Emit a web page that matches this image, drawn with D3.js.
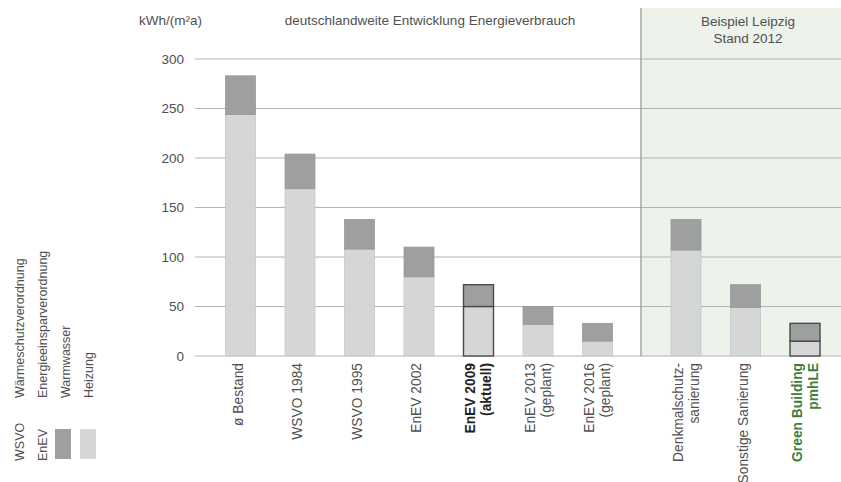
<!DOCTYPE html>
<html><head><meta charset="utf-8">
<script src="https://cdn.jsdelivr.net/npm/d3@7"></script>
<style>
html,body{margin:0;padding:0;background:#fff;}
svg{display:block;font-family:"Liberation Sans",Arial,Helvetica,sans-serif;}
</style></head>
<body>
<svg id="chart" width="841" height="482"></svg>
<script>
// ---- data ----
const categories = ["ø Bestand","WSVO 1984","WSVO 1995","EnEV 2002","EnEV 2009 (aktuell)","EnEV 2013 (geplant)","EnEV 2016 (geplant)","Denkmalschutz-sanierung","Sonstige Sanierung","Green Building pmhLE"];
const labelLines = [["ø Bestand"],["WSVO 1984"],["WSVO 1995"],["EnEV 2002"],["EnEV 2009","(aktuell)"],["EnEV 2013","(geplant)"],["EnEV 2016","(geplant)"],["Denkmalschutz-","sanierung"],["Sonstige Sanierung"],["Green Building","pmhLE"]];
const groups = ["de","de","de","de","de","de","de","le","le","le"];
const heizung    = [244,169,108,80,50,32,15,107,49,15];
const warmwasser = [39,35,30,30,22,18,18,31,23,18];
const yTicks = [0,50,100,150,200,250,300];
const unitLabel = "kWh/(m²a)";
const titleLeft = "deutschlandweite Entwicklung Energieverbrauch";
const titleRight = ["Beispiel Leipzig","Stand 2012"];
const legendAbbr = ["WSVO","EnEV"];
const legendAbbrText = ["Wärmeschutzverordnung","Energieeinsparverordnung"];
const seriesNames = ["Warmwasser","Heizung"];

// ---- layout ----
const svg = d3.select("#chart");
const W = 841, H = 482;
const y = d3.scaleLinear().domain([0,300]).range([356,59]);
const deCats = categories.filter((c,i)=>groups[i]==="de");
const leCats = categories.filter((c,i)=>groups[i]==="le");
const xDe = d3.scalePoint().domain(deCats).range([240.5,597.5]);
const xLe = d3.scalePoint().domain(leCats).range([686,805]);
const xc = (c,i) => groups[i]==="de" ? xDe(c) : xLe(c);
const barW = 30;
const sepX = 641;
const colDark = "#9e9f9f", colLight = "#d5d7d6";
const textCol = "#505050";
const green = "#3f7f3a";
const highlighted = new Set(["EnEV 2009 (aktuell)","Green Building pmhLE"]);

// green region
svg.append("rect").attr("x",sepX).attr("y",8).attr("width",W-sepX).attr("height",y(0)-8).attr("fill","#edf2ea");

// grid lines
svg.append("g").selectAll("line").data(yTicks).join("line")
  .attr("x1",195).attr("x2",W).attr("y1",d=>y(d)).attr("y2",d=>y(d))
  .attr("stroke","#b3b3b3").attr("stroke-width",1.2);

// separator
svg.append("line").attr("x1",sepX).attr("x2",sepX).attr("y1",8).attr("y2",y(0))
  .attr("stroke","#9a9a9a").attr("stroke-width",1.3);

// y axis labels
svg.append("g").selectAll("text").data(yTicks).join("text")
  .attr("x",184).attr("y",d=>y(d)).attr("dy","0.35em").attr("text-anchor","end")
  .attr("font-size",13.5).attr("fill",textCol).text(d=>d);

svg.append("text").attr("x",139).attr("y",25).attr("font-size",13.5).attr("fill",textCol).text(unitLabel);
svg.append("text").attr("x",430).attr("y",25).attr("text-anchor","middle").attr("font-size",13.5).attr("fill",textCol).text(titleLeft);
svg.append("g").selectAll("text").data(titleRight).join("text")
  .attr("x",748).attr("y",(d,i)=>26+i*16.5).attr("text-anchor","middle").attr("font-size",13.5).attr("fill",textCol).text(d=>d);

// bars
const bars = svg.append("g");
categories.forEach((c,i)=>{
  const x0 = xc(c,i) - barW/2;
  const hl = highlighted.has(c);
  bars.append("rect").attr("x",x0).attr("width",barW)
    .attr("y",y(heizung[i])).attr("height",y(0)-y(heizung[i]))
    .attr("fill",colLight).attr("stroke",hl?"#4a4a4a":"#c6c8c7").attr("stroke-width",hl?1.4:0.8);
  bars.append("rect").attr("x",x0).attr("width",barW)
    .attr("y",y(heizung[i]+warmwasser[i])).attr("height",y(heizung[i])-y(heizung[i]+warmwasser[i]))
    .attr("fill",colDark).attr("stroke",hl?"#4a4a4a":"#979898").attr("stroke-width",hl?1.4:0.8);
});

// x labels
const xl = svg.append("g");
categories.forEach((c,i)=>{
  const lines = labelLines[i];
  const cx = xc(c,i);
  const isBold = highlighted.has(c);
  const isGreen = c.startsWith("Green");
  lines.forEach((t,j)=>{
    const off = lines.length===1 ? 2 : (j===0 ? -3.5 : 12.5);
    xl.append("text").attr("transform",`translate(${cx+off},363) rotate(-90)`)
      .attr("text-anchor","end").attr("font-size",13.8)
      .attr("font-weight",isBold?"bold":"normal")
      .attr("fill",isGreen?green:(isBold?"#222":textCol)).text(t);
  });
});

// legend
const lg = svg.append("g");
[24,47].forEach((bx,i)=>{
  lg.append("text").attr("transform",`translate(${bx},461) rotate(-90)`).attr("font-size",12.5).attr("fill",textCol).text(legendAbbr[i]);
  lg.append("text").attr("transform",`translate(${bx},398) rotate(-90)`).attr("font-size",12.5).attr("fill",textCol).text(legendAbbrText[i]);
});
[[55,colDark,70],[80,colLight,93]].forEach(([sx,col,tx],i)=>{
  lg.append("rect").attr("x",sx).attr("y",429).attr("width",16).attr("height",30).attr("fill",col);
  lg.append("text").attr("transform",`translate(${tx},398) rotate(-90)`).attr("font-size",12.5).attr("fill",textCol).text(seriesNames[i]);
});
</script>
</body></html>
